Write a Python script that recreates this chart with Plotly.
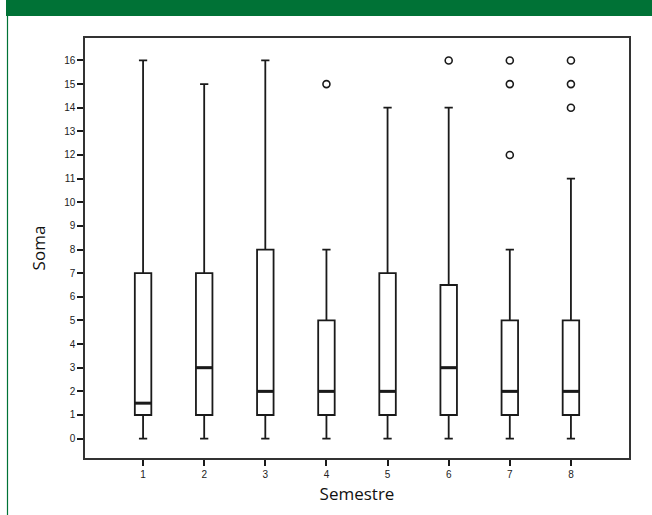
import plotly.graph_objects as go

# ---- data ----
semestres = [1, 2, 3, 4, 5, 6, 7, 8]
q1 = [1, 1, 1, 1, 1, 1, 1, 1]
mediana = [1.5, 3, 2, 2, 2, 3, 2, 2]
q3 = [7, 7, 8, 5, 7, 6.5, 5, 5]
minimo = [0, 0, 0, 0, 0, 0, 0, 0]
maximo = [16, 15, 16, 8, 14, 14, 8, 11]
outlier_x = [4, 6, 7, 7, 7, 8, 8, 8]
outlier_y = [15, 16, 12, 15, 16, 14, 15, 16]
y_ticks = list(range(0, 17))

BOX_W = 0.27
INK = "#1a1a1a"

fig = go.Figure()

fig.add_trace(go.Box(
    x=semestres, q1=q1, median=mediana, q3=q3,
    lowerfence=minimo, upperfence=maximo,
    width=BOX_W, whiskerwidth=0.5, boxpoints=False,
    fillcolor="white", line=dict(color=INK, width=1.8),
    showlegend=False, hoverinfo="skip",
))

# thicker median lines
mx, my = [], []
for s, m in zip(semestres, mediana):
    mx += [s - BOX_W / 2, s + BOX_W / 2, None]
    my += [m, m, None]
fig.add_trace(go.Scatter(x=mx, y=my, mode="lines",
                         line=dict(color=INK, width=3),
                         showlegend=False, hoverinfo="skip"))

fig.add_trace(go.Scatter(
    x=outlier_x, y=outlier_y, mode="markers",
    marker=dict(symbol="circle-open", size=7, color=INK, line=dict(width=1.6)),
    showlegend=False, hoverinfo="skip",
))

L, R, T, B = 85, 23, 38, 57
W, H = 652, 515
pw, ph = W - L - R, H - T - B


def px(x):
    return (x - L) / pw


def py(y):
    return (H - B - y) / ph


GREEN = "#007236"
fig.add_shape(type="rect", xref="paper", yref="paper",
              x0=px(6), x1=px(653), y0=py(16), y1=py(-2),
              fillcolor=GREEN, line=dict(width=0), layer="above")
fig.add_shape(type="line", xref="paper", yref="paper",
              x0=px(7.5), x1=px(7.5), y0=py(16), y1=py(516),
              line=dict(color=GREEN, width=1.2), layer="above")

fig.update_layout(
    width=W, height=H,
    margin=dict(l=L, r=R, t=T, b=B),
    plot_bgcolor="white", paper_bgcolor="white",
    xaxis=dict(
        range=[0.05, 8.95], tickmode="array", tickvals=semestres,
        ticktext=[str(s) for s in semestres],
        ticks="outside", ticklen=6, tickwidth=1.5, tickcolor=INK,
        showline=True, mirror=True, linecolor="#333", linewidth=1.5,
        showgrid=False, zeroline=False,
        tickfont=dict(family="Liberation Sans", size=10, color="#222"),
        title=dict(text="Semestre", standoff=9,
                   font=dict(family="Open Sans", size=17, color="#111")),
    ),
    yaxis=dict(
        range=[-0.82, 16.95], tickmode="array", tickvals=y_ticks,
        ticks="outside", ticklen=6, tickwidth=1.5, tickcolor=INK,
        showline=True, mirror=True, linecolor="#333", linewidth=1.5,
        showgrid=False, zeroline=False,
        tickfont=dict(family="Liberation Sans", size=10, color="#222"),
        title=dict(text="Soma", standoff=14,
                   font=dict(family="Open Sans", size=17, color="#111")),
    ),
)

fig.write_html(
    "out.html",
    config={"displayModeBar": False},
    post_script="document.body.style.margin='0';document.body.style.overflow='hidden';",
)
